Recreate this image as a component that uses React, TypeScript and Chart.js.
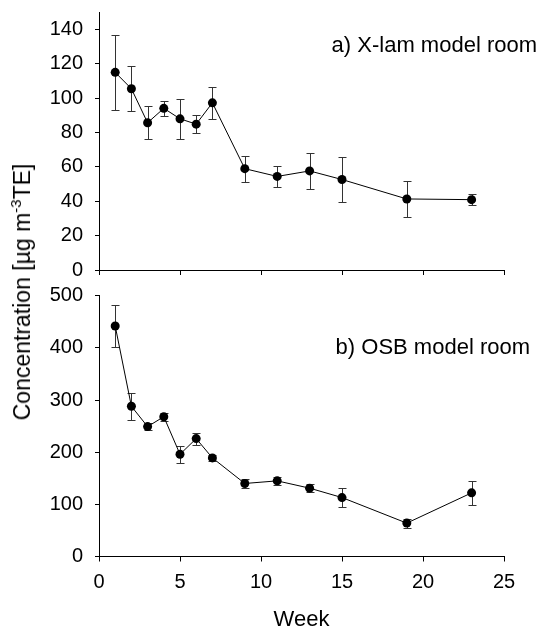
import { useEffect, useRef } from 'react';
import { Chart, registerables } from 'chart.js';

Chart.register(...registerables);

// Sampling weeks shared by both model rooms
const weeks = [1, 2, 3, 4, 5, 6, 7, 9, 11, 13, 15, 19, 23];

// a) X-lam model room: mean concentration and standard deviation
const xlamMean = [114.9, 105.4, 85.6, 94.0, 87.9, 84.8, 97.2, 58.9, 54.4, 57.6, 52.6, 41.3, 40.9];
const xlamSd = [22.0, 13.0, 9.7, 4.5, 11.5, 5.4, 9.4, 7.5, 5.9, 10.7, 12.9, 10.3, 3.3];

// b) OSB model room: mean concentration and standard deviation
const osbMean = [442, 288, 249, 268, 196, 226, 189, 140, 145, 131, 113, 64, 122];
const osbSd = [41, 26, 7, 7.5, 16.5, 11.5, 5.5, 9, 8, 7.5, 19, 8.5, 22.5];

const xTicks = [0, 5, 10, 15, 20, 25];
const xlamTicks = [0, 20, 40, 60, 80, 100, 120, 140];
const osbTicks = [0, 100, 200, 300, 400, 500];

const FONT = "'Liberation Sans', Arial, sans-serif";
const TICK_SIZE = 20;
const TITLE_SIZE = 22;

const errorBarPlugin = (sd: number[]) => ({
  id: 'errorBars',
  beforeDatasetsDraw(chart: any) {
    const { ctx, scales } = chart;
    const x = scales.x;
    const y = scales.y;
    const pts = chart.data.datasets[0].data as { x: number; y: number }[];
    ctx.save();
    ctx.strokeStyle = '#333';
    ctx.lineWidth = 1;
    pts.forEach((p, i) => {
      const px = Math.round(x.getPixelForValue(p.x)) + 0.5;
      const yt = Math.round(y.getPixelForValue(p.y + sd[i])) + 0.5;
      const yb = Math.round(y.getPixelForValue(p.y - sd[i])) + 0.5;
      ctx.beginPath();
      ctx.moveTo(px, yt);
      ctx.lineTo(px, yb);
      ctx.moveTo(px - 4, yt);
      ctx.lineTo(px + 4, yt);
      ctx.moveTo(px - 4, yb);
      ctx.lineTo(px + 4, yb);
      ctx.stroke();
    });
    ctx.restore();
  },
});

const panelLabelPlugin = (text: string, right: number, cy: number) => ({
  id: 'panelLabel',
  afterDraw(chart: any) {
    const { ctx } = chart;
    ctx.save();
    ctx.font = `${TITLE_SIZE}px ${FONT}`;
    ctx.fillStyle = '#000';
    ctx.textAlign = 'right';
    ctx.textBaseline = 'middle';
    ctx.fillText(text, right, cy);
    ctx.restore();
  },
});

function makeConfig(opts: {
  mean: number[];
  sd: number[];
  yMax: number;
  yTicks: number[];
  bottom: boolean;
  padTop: number;
  xAxisHeight: number;
  label: string;
  labelRight: number;
  labelY: number;
}): any {
  const { mean, sd, yMax, yTicks, bottom, padTop, xAxisHeight } = opts;
  return {
    type: 'line',
    data: {
      datasets: [
        {
          data: weeks.map((w, i) => ({ x: w, y: mean[i] })),
          borderColor: '#000',
          borderWidth: 1,
          pointRadius: 4.5,
          pointBackgroundColor: '#000',
          pointBorderColor: '#000',
          pointBorderWidth: 0,
          tension: 0,
        },
      ],
    },
    options: {
      animation: false,
      responsive: true,
      maintainAspectRatio: false,
      devicePixelRatio: 1,
      layout: { padding: { top: padTop, right: 35, left: 0, bottom: 0 } },
      plugins: { legend: { display: false }, tooltip: { enabled: false } },
      scales: {
        x: {
          type: 'linear',
          min: 0,
          max: 25,
          afterBuildTicks: (s: any) => {
            s.ticks = xTicks.map((v) => ({ value: v }));
          },
          afterFit: (s: any) => {
            s.height = xAxisHeight;
            s.paddingLeft = 0;
            s.paddingRight = 0;
          },
          grid: { drawOnChartArea: false, drawTicks: true, tickLength: 5, color: '#000' },
          border: { display: true, color: '#000', width: 1 },
          ticks: {
            display: bottom,
            color: '#000',
            font: { family: FONT, size: TICK_SIZE },
            padding: 9,
            maxRotation: 0,
          },
          title: {
            display: bottom,
            text: 'Week',
            color: '#000',
            font: { family: FONT, size: TITLE_SIZE, lineHeight: 1 },
            padding: { top: 0, bottom: -3 },
          },
        },
        y: {
          type: 'linear',
          min: 0,
          max: yMax,
          afterBuildTicks: (s: any) => {
            s.ticks = yTicks.map((v) => ({ value: v }));
          },
          afterFit: (s: any) => {
            s.width = 99;
            s.paddingTop = 0;
            s.paddingBottom = 0;
          },
          grid: { drawOnChartArea: false, drawTicks: true, tickLength: 4, color: '#000' },
          border: { display: true, color: '#000', width: 1 },
          ticks: {
            color: '#000',
            font: { family: FONT, size: TICK_SIZE },
            padding: 12,
          },
        },
      },
    },
    plugins: [errorBarPlugin(sd), panelLabelPlugin(opts.label, opts.labelRight, opts.labelY)],
  };
}

export default function App() {
  const topRef = useRef<HTMLCanvasElement>(null);
  const botRef = useRef<HTMLCanvasElement>(null);

  useEffect(() => {
    const top = new Chart(
      topRef.current!,
      makeConfig({
        mean: xlamMean,
        sd: xlamSd,
        yMax: 150,
        yTicks: xlamTicks,
        bottom: false,
        padTop: 12,
        xAxisHeight: 20,
        label: 'a) X-lam model room',
        labelRight: 537,
        labelY: 46,
      })
    );
    const bot = new Chart(
      botRef.current!,
      makeConfig({
        mean: osbMean,
        sd: osbSd,
        yMax: 500,
        yTicks: osbTicks,
        bottom: true,
        padTop: 15.7,
        xAxisHeight: 71.5,
        label: 'b) OSB model room',
        labelRight: 530,
        labelY: 68,
      })
    );
    return () => {
      top.destroy();
      bot.destroy();
    };
  }, []);

  return (
    <div
      style={{
        position: 'absolute',
        left: 0,
        top: 0,
        width: 539,
        height: 628,
        background: '#fff',
        fontFamily: FONT,
        color: '#000',
      }}
    >
      <div style={{ position: 'absolute', left: 0, top: 0, width: 539, height: 290 }}>
        <canvas ref={topRef} />
      </div>
      <div style={{ position: 'absolute', left: 0, top: 280, width: 539, height: 348 }}>
        <canvas ref={botRef} />
      </div>
      <div
        style={{
          position: 'absolute',
          left: 22,
          top: 292,
          transform: 'translate(-50%, -50%) rotate(-90deg)',
          whiteSpace: 'nowrap',
          fontSize: 23,
          lineHeight: '26px',
        }}
      >
        Concentration [µg m<sup style={{ fontSize: 15, verticalAlign: 'super', lineHeight: 0 }}>-3</sup>TE]
      </div>
    </div>
  );
}
